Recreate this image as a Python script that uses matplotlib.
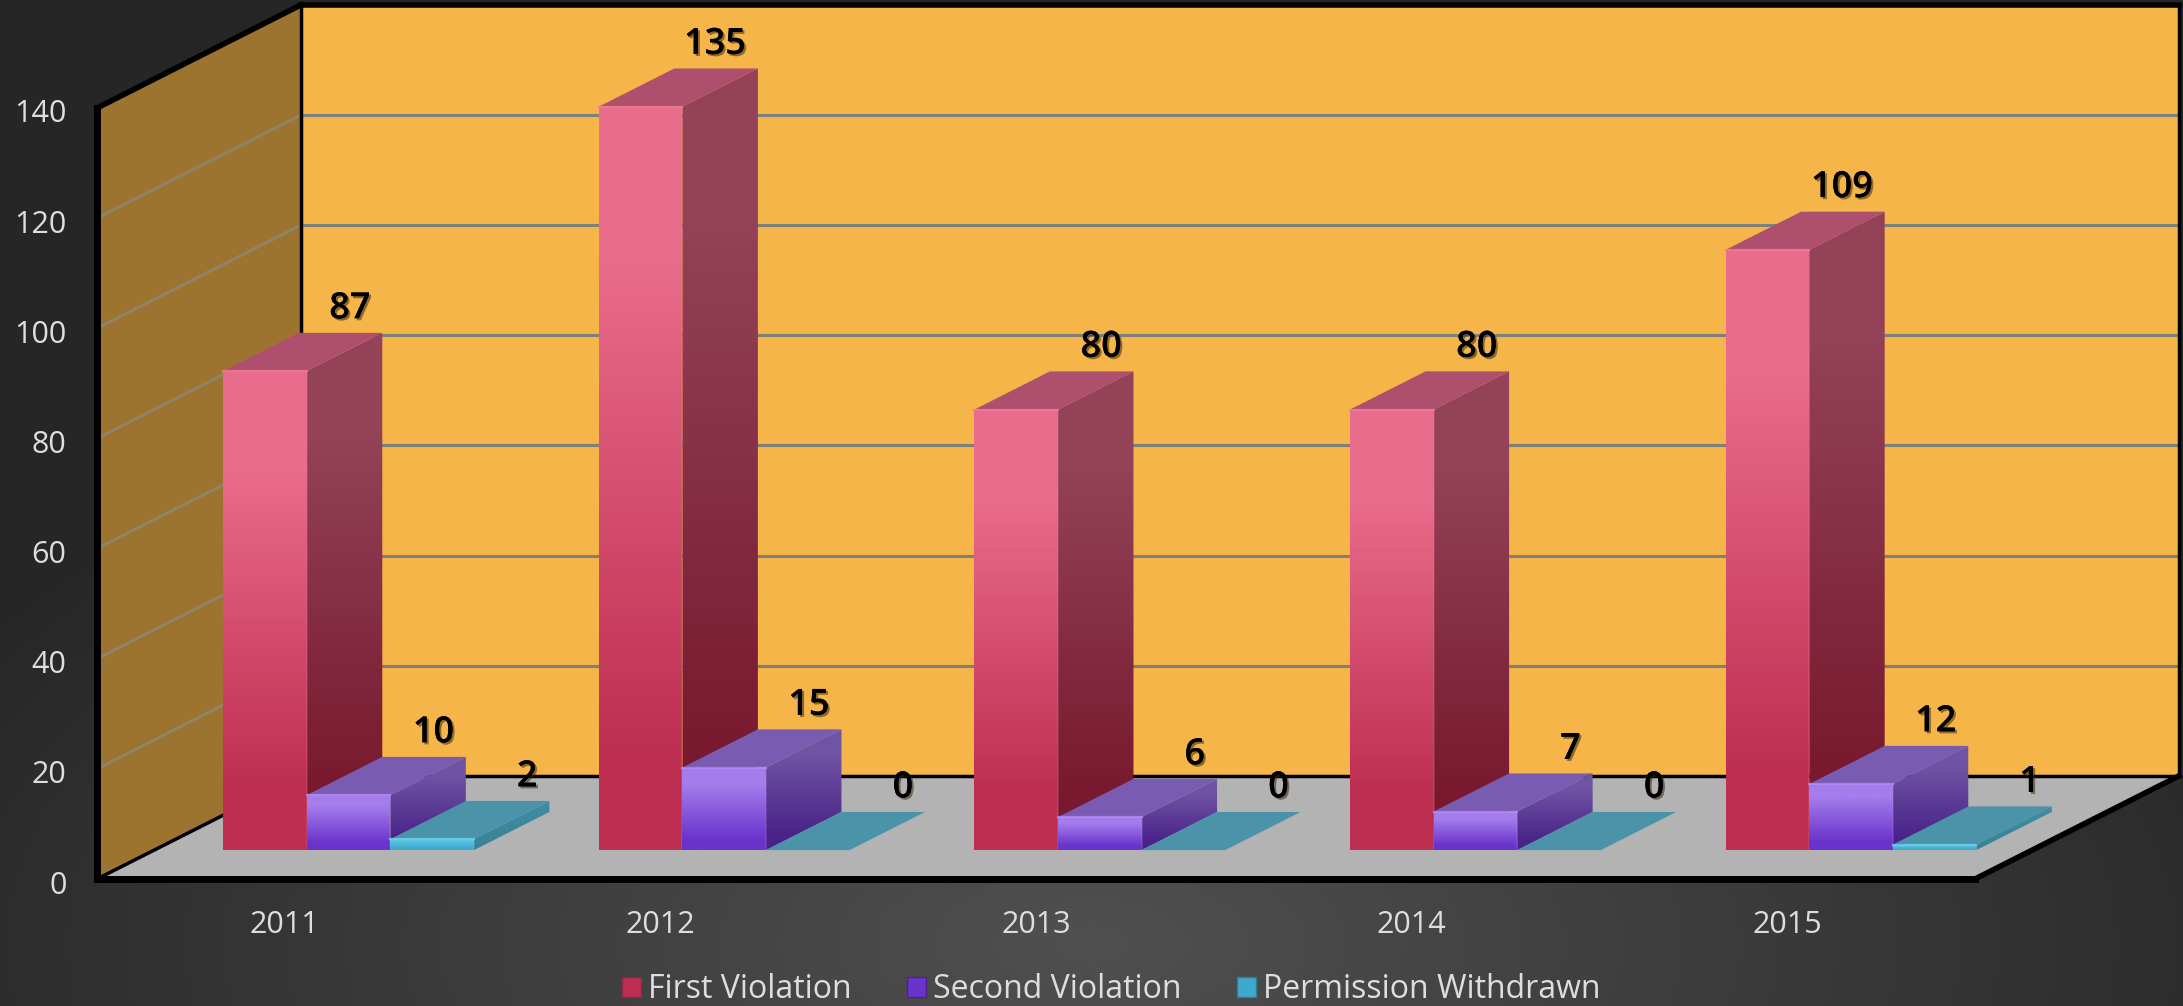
import matplotlib
matplotlib.use("Agg")
import matplotlib.pyplot as plt
import matplotlib.patheffects as pe
from matplotlib.colors import LinearSegmentedColormap
from matplotlib.patches import Polygon, Patch
from matplotlib.transforms import ScaledTranslation
import numpy as np

years = ["2011", "2012", "2013", "2014", "2015"]
first_violation = [87, 135, 80, 80, 109]
second_violation = [10, 15, 6, 7, 12]
permission_withdrawn = [2, 0, 0, 0, 1]
y_ticks = [0, 20, 40, 60, 80, 100, 120, 140]

WIDTH, HEIGHT = 2183, 1006
LEFT, BOTTOM, PLOT_W, PLOT_H = 97, 879, 1878, 771   # front plane in pixels

# how far the back of the box sits from the front, in data units
DEPTH_X = 204 / 375.6
DEPTH_Y = 103 / 5.5

BAR_W = 0.2225
GROUP_START = 0.184
BAR_D0, BAR_D1 = 0.28, 0.65

# front top, front bottom, side top, side bottom, top face, edge highlight
PINK = ("#ea6c8c", "#bd2e50", "#934258", "#78192f", "#ad4f6d", "#f07c9a")
PURPLE = ("#a57dec", "#6a33cb", "#6f54a4", "#4a2389", "#7a5bb2", "#b48ef2")
TEAL = ("#58c6e8", "#3fa8cc", "#3f8ca2", "#3a8298", "#4a93a9", "#6fd0ec")

WALL_BACK = "#f5b548"
WALL_LEFT = "#9c7430"
FLOOR = "#b3b3b3"
GRID = "#80807a"
TEXT = "#dedede"
FONT = "Open Sans"


def proj(x, v, d):
    return (x + d * DEPTH_X, v + d * DEPTH_Y)


fig = plt.figure(figsize=(WIDTH / 100, HEIGHT / 100), dpi=100)

# background
bg = fig.add_axes([0, 0, 1, 1], zorder=0)
yy, xx = np.mgrid[0:1:300j, 0:1:650j]
r = np.sqrt(((xx - 0.5) / 0.6) ** 2 + ((yy - 0.06) / 0.62) ** 2)
shade = np.clip(1 - r, 0, 1)
bg.imshow(shade, cmap=LinearSegmentedColormap.from_list("bg", ["#262626", "#505050"]),
          vmin=0, vmax=1, aspect="auto", extent=(0, 1, 0, 1), origin="lower")
bg.axis("off")

ax = fig.add_axes([LEFT / WIDTH, (HEIGHT - BOTTOM) / HEIGHT, PLOT_W / WIDTH, PLOT_H / HEIGHT], zorder=1)
ax.patch.set_alpha(0)


def poly(pts, color, z):
    ax.add_patch(Polygon(pts, closed=True, facecolor=color, edgecolor="none", zorder=z, clip_on=False))


def grad_poly(pts, top, bottom, z):
    xs = [p[0] for p in pts]
    ys = [p[1] for p in pts]
    cmap = LinearSegmentedColormap.from_list("g", [(0, bottom), (0.12, bottom), (0.8, top), (1, top)], N=256)
    grad = np.linspace(0, 1, 128).reshape(-1, 1)
    im = ax.imshow(grad, cmap=cmap, aspect="auto", origin="lower", zorder=z,
                   extent=(min(xs), max(xs), min(ys), max(ys)))
    im.set_clip_path(Polygon(pts, closed=True, transform=ax.transData))
    im.set_clip_box(fig.bbox)


def draw_bar(x, value, colors, z):
    x1 = x + BAR_W
    if value > 0:
        front = [proj(x, 0, BAR_D0), proj(x1, 0, BAR_D0), proj(x1, value, BAR_D0), proj(x, value, BAR_D0)]
        side = [proj(x1, 0, BAR_D0), proj(x1, 0, BAR_D1), proj(x1, value, BAR_D1), proj(x1, value, BAR_D0)]
        grad_poly(side, colors[2], colors[3], z)
        grad_poly(front, colors[0], colors[1], z + 0.1)
    top = [proj(x, value, BAR_D0), proj(x1, value, BAR_D0), proj(x1, value, BAR_D1), proj(x, value, BAR_D1)]
    poly(top, colors[4], z + 0.2)
    if value > 0:
        # soft bevel along the front face edges
        ax.plot(*zip(proj(x, value, BAR_D0), proj(x1, value, BAR_D0)), color=colors[5], lw=1.6, alpha=0.8,
                zorder=z + 0.3, clip_on=False)
        ax.plot(*zip(proj(x1, 0, BAR_D0), proj(x1, value, BAR_D0)), color=colors[5], lw=1.4, alpha=0.2,
                zorder=z + 0.3, clip_on=False)


# walls and floor
poly([proj(0, 0, 1), proj(5, 0, 1), proj(5, 140, 1), proj(0, 140, 1)], WALL_BACK, 1)
poly([proj(0, 0, 0), proj(0, 0, 1), proj(0, 140, 1), proj(0, 140, 0)], WALL_LEFT, 1)
poly([proj(0, 0, 0), proj(5, 0, 0), proj(5, 0, 1), proj(0, 0, 1)], FLOOR, 1)

for v in y_ticks[1:-1]:
    ax.plot(*zip(proj(0, v, 1), proj(5, v, 1)), color=GRID, lw=2.2, zorder=2, clip_on=False)
    ax.plot(*zip(proj(0, v, 0), proj(0, v, 1)), color="#8f8466", lw=2.2, zorder=2, clip_on=False)

# black frame
for a, b, lw in [
    (proj(0, 0, 0), proj(5, 0, 0), 5),
    (proj(0, 0, 0), proj(0, 140, 0), 5),
    (proj(0, 140, 0), proj(0, 140, 1), 4),
    (proj(0, 140, 1), proj(5, 140, 1), 4),
    (proj(0, 140, 1), proj(0, 0, 1), 2.5),
    (proj(0, 0, 0), proj(0, 0, 1), 2.5),
    (proj(0, 0, 1), proj(5, 0, 1), 2.5),
    (proj(5, 0, 0), proj(5, 0, 1), 4),
    (proj(5, 0, 1), proj(5, 140, 1), 2.5),
]:
    ax.plot(*zip(a, b), color="black", lw=lw, zorder=3, clip_on=False, solid_capstyle="projecting")

# bars and their labels
shadow = [pe.withSimplePatchShadow(offset=(1.5, -1.5), shadow_rgbFace="#3a2a10", alpha=0.55), pe.Normal()]
for i in range(len(years)):
    for j, (series, colors) in enumerate([(first_violation, PINK), (second_violation, PURPLE),
                                          (permission_withdrawn, TEAL)]):
        x = i + GROUP_START + j * BAR_W
        z = 4 + i + j * 0.3
        draw_bar(x, series[i], colors, z)
        ax.annotate(str(series[i]), xy=proj(x + BAR_W / 2, series[i], BAR_D1), xytext=(21.5, 17),
                    textcoords="offset points", ha="right", va="center", fontsize=26,
                    family="Open Sans", fontweight="semibold", color="black", zorder=20,
                    annotation_clip=False, path_effects=shadow)

# axes
ax.set_xlim(0, 5)
ax.set_ylim(0, 140)
ax.set_xticks(np.arange(len(years)) + 0.5)
ax.set_xticklabels(years, fontsize=22, family=FONT, color=TEXT)
ax.set_yticks(y_ticks)
ax.set_yticklabels(y_ticks, fontsize=22, family=FONT, color=TEXT)
ax.tick_params(axis="x", length=0, pad=22)
ax.tick_params(axis="y", length=0, pad=22)
for label in ax.get_yticklabels():
    label.set_transform(label.get_transform() + ScaledTranslation(0, -0.03, fig.dpi_scale_trans))
for spine in ax.spines.values():
    spine.set_visible(False)

handles = [Patch(facecolor=PINK[1], edgecolor="#8a2a45", label="First Violation"),
           Patch(facecolor=PURPLE[1], edgecolor="#4a2389", label="Second Violation"),
           Patch(facecolor=TEAL[1], edgecolor="#2d7d95", label="Permission Withdrawn")]
fig.legend(handles=handles, loc="center", bbox_to_anchor=(1111 / WIDTH, (HEIGHT - 990) / HEIGHT), ncol=3,
           frameon=False, labelcolor=TEXT, prop={"family": FONT, "size": 23},
           handlelength=0.6, handleheight=0.6, handletextpad=0.2, columnspacing=1.75)

fig.savefig("out.png", dpi=100)
